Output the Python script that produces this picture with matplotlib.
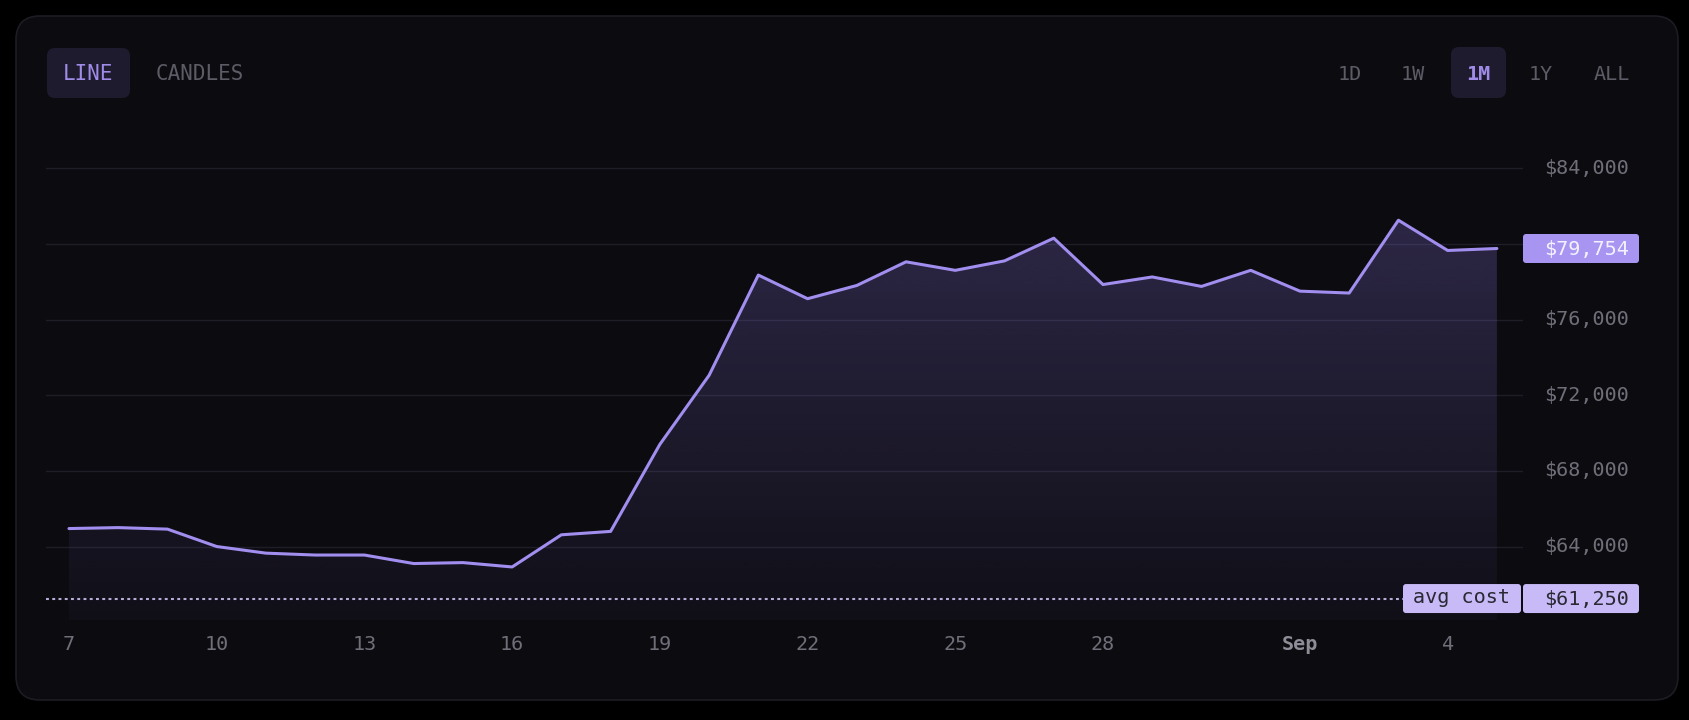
import numpy as np
import matplotlib
matplotlib.use("Agg")
import matplotlib.pyplot as plt
from matplotlib.patches import FancyBboxPatch, PathPatch
from matplotlib.colors import to_rgb
import matplotlib.transforms as mtrans

# ---------------- data ----------------
dates = ["Aug 7", "Aug 8", "Aug 9", "Aug 10", "Aug 11", "Aug 12", "Aug 13", "Aug 14",
         "Aug 15", "Aug 16", "Aug 17", "Aug 18", "Aug 19", "Aug 20", "Aug 21", "Aug 22",
         "Aug 23", "Aug 24", "Aug 25", "Aug 26", "Aug 27", "Aug 28", "Aug 29", "Aug 30",
         "Aug 31", "Sep 1", "Sep 2", "Sep 3", "Sep 4", "Sep 5"]
prices = [64950, 65000, 64920, 64000, 63650, 63550, 63550, 63100,
          63150, 62920, 64620, 64800, 69400, 73050, 78350, 77100,
          77800, 79050, 78600, 79100, 80300, 77850, 78250, 77750,
          78600, 77500, 77400, 81250, 79650, 79754]
avg_cost = 61250
y_ticks = [64000, 68000, 72000, 76000, 80000, 84000]
x_tick_idx = [0, 3, 6, 9, 12, 15, 18, 21, 25, 28]
x_tick_labels = ["7", "10", "13", "16", "19", "22", "25", "28", "Sep", "4"]
x_tick_bold = [False, False, False, False, False, False, False, False, True, False]
mode_buttons = ["LINE", "CANDLES"]
range_buttons = ["1D", "1W", "1M", "1Y", "ALL"]
active_mode = "LINE"
active_range = "1M"

# ---------------- style ----------------
W, H = 1690, 720
BG = "#000000"
CARD = "#0c0b10"
CARD_EDGE = "#1d1c23"
GRID = "#1f1d27"
LINE = "#a18eef"
FILL = "#8e7be6"
MUTED = "#706e79"
BTN_MUTED = "#5d5b66"
BTN_BG = "#1f1b2e"
BTN_ACTIVE = "#a08ce8"
TAG_BG = "#a895f2"
TAG_TXT = "#f4f1ff"
AVG_BG = "#c7baf6"
AVG_TXT = "#2a2833"
DOT = "#b6acd8"
MONO = "DejaVu Sans Mono"

fig = plt.figure(figsize=(W / 100, H / 100), dpi=100, facecolor=BG)

# background / decoration axes in pixel coordinates
bg = fig.add_axes([0, 0, 1, 1], zorder=0)
bg.set_xlim(0, W)
bg.set_ylim(H, 0)
bg.axis("off")
bg.add_patch(FancyBboxPatch((16, 16), 1662, 684,
                            boxstyle="round,pad=0,rounding_size=24",
                            facecolor=CARD, edgecolor=CARD_EDGE, lw=1.2))

# mode buttons
mode_x = [88, 200]
for lab, cx in zip(mode_buttons, mode_x):
    if lab == active_mode:
        bg.add_patch(FancyBboxPatch((47, 48), 83, 50,
                                    boxstyle="round,pad=0,rounding_size=8",
                                    facecolor=BTN_BG, edgecolor="none"))
        bg.text(cx, 74, lab, color=BTN_ACTIVE, fontsize=15, family=MONO,
                ha="center", va="center")
    else:
        bg.text(cx, 74, lab, color=BTN_MUTED, fontsize=15, family=MONO,
                ha="center", va="center")

range_x = [1350, 1413, 1478, 1541, 1612]
for lab, cx in zip(range_buttons, range_x):
    if lab == active_range:
        bg.add_patch(FancyBboxPatch((1451, 47), 55, 51,
                                    boxstyle="round,pad=0,rounding_size=8",
                                    facecolor=BTN_BG, edgecolor="none"))
        bg.text(cx, 74, lab, color=BTN_ACTIVE, fontsize=14.5, family=MONO,
                ha="center", va="center", fontweight="bold")
    else:
        bg.text(cx, 74, lab, color=BTN_MUTED, fontsize=14.5, family=MONO,
                ha="center", va="center")

# ---------------- chart axes ----------------
left_px, right_px, top_px, bot_px = 46, 1523, 120, 620
ax = fig.add_axes([left_px / W, 1 - bot_px / H, (right_px - left_px) / W,
                   (bot_px - top_px) / H], zorder=1)
ax.set_facecolor("none")
for s in ax.spines.values():
    s.set_visible(False)
ax.set_xticks([])
ax.set_yticks([])

x = np.arange(len(prices))
ybot, ytop = 60116, 86547
xlo, xhi = -0.467, 29.53

for t in y_ticks:
    ax.axhline(t, color=GRID, lw=1.0, zorder=0.5)

# gradient fill under line
coll = ax.fill_between(x, prices, ybot, facecolor="none", edgecolor="none")
clip = PathPatch(coll.get_paths()[0], transform=ax.transData,
                 facecolor="none", edgecolor="none")
ax.add_patch(clip)
N = 256
rgba = np.zeros((N, 1, 4))
rgba[..., :3] = to_rgb(FILL)
rgba[:, 0, 3] = np.linspace(0.035, 0.25, N)
ytop_fill = max(prices)
im = ax.imshow(rgba, extent=[x[0], x[-1], ybot, ytop_fill], origin="lower",
               aspect="auto", interpolation="bilinear", zorder=1)
im.set_clip_path(clip)

ax.plot(x, prices, color=LINE, lw=2.2, solid_joinstyle="round",
        solid_capstyle="round", zorder=3)

# avg cost dotted line
avg_end_frac = (1403 - left_px) / (right_px - left_px)
ax.axhline(avg_cost, xmin=0, xmax=avg_end_frac, color=DOT, lw=1.5,
           linestyle=(0, (1.4, 1.6)), zorder=2)

ax.set_xlim(xlo, xhi)
ax.set_ylim(ybot, ytop)

# ---------------- overlay labels ----------------
fg = fig.add_axes([0, 0, 1, 1], zorder=2)
fg.set_xlim(0, W)
fg.set_ylim(H, 0)
fg.axis("off")
fg.set_facecolor("none")

bl = mtrans.blended_transform_factory(fg.transData, ax.transData)
last = prices[-1]
for t in y_ticks:
    if abs(t - last) < 1500:
        continue
    fg.text(1629, t, f"${t:,.0f}", transform=bl, color=MUTED, fontsize=14.5,
            family=MONO, ha="right", va="center")

# current price tag
tag_h = 29
ypx_last = fg.transData.inverted().transform(ax.transData.transform((0, last)))[1]
fg.add_patch(FancyBboxPatch((1523, ypx_last - tag_h / 2), 116, tag_h,
                            boxstyle="round,pad=0,rounding_size=3",
                            facecolor=TAG_BG, edgecolor="none"))
fg.text(1629, ypx_last + 1, f"${last:,.0f}", color=TAG_TXT, fontsize=14.5,
        family=MONO, ha="right", va="center")

# avg cost tags
ypx_avg = fg.transData.inverted().transform(ax.transData.transform((0, avg_cost)))[1]
fg.add_patch(FancyBboxPatch((1403, ypx_avg - tag_h / 2), 118, tag_h,
                            boxstyle="round,pad=0,rounding_size=3",
                            facecolor=AVG_BG, edgecolor="none"))
fg.add_patch(FancyBboxPatch((1523, ypx_avg - tag_h / 2), 116, tag_h,
                            boxstyle="round,pad=0,rounding_size=3",
                            facecolor=AVG_BG, edgecolor="none"))
fg.text(1462, ypx_avg - 1, "avg cost", color=AVG_TXT, fontsize=14.5,
        family=MONO, ha="center", va="center")
fg.text(1629, ypx_avg + 1, f"${avg_cost:,.0f}", color=AVG_TXT, fontsize=14.5,
        family=MONO, ha="right", va="center")

# x tick labels
blx = mtrans.blended_transform_factory(ax.transData, fg.transData)
for i, lab, b in zip(x_tick_idx, x_tick_labels, x_tick_bold):
    fg.text(i, 644, lab, transform=blx, color="#8e8c96" if b else MUTED,
            fontsize=14.5, family=MONO, fontweight="bold" if b else "normal",
            ha="center", va="center")

fig.savefig("out.png", dpi=100, facecolor=BG)
